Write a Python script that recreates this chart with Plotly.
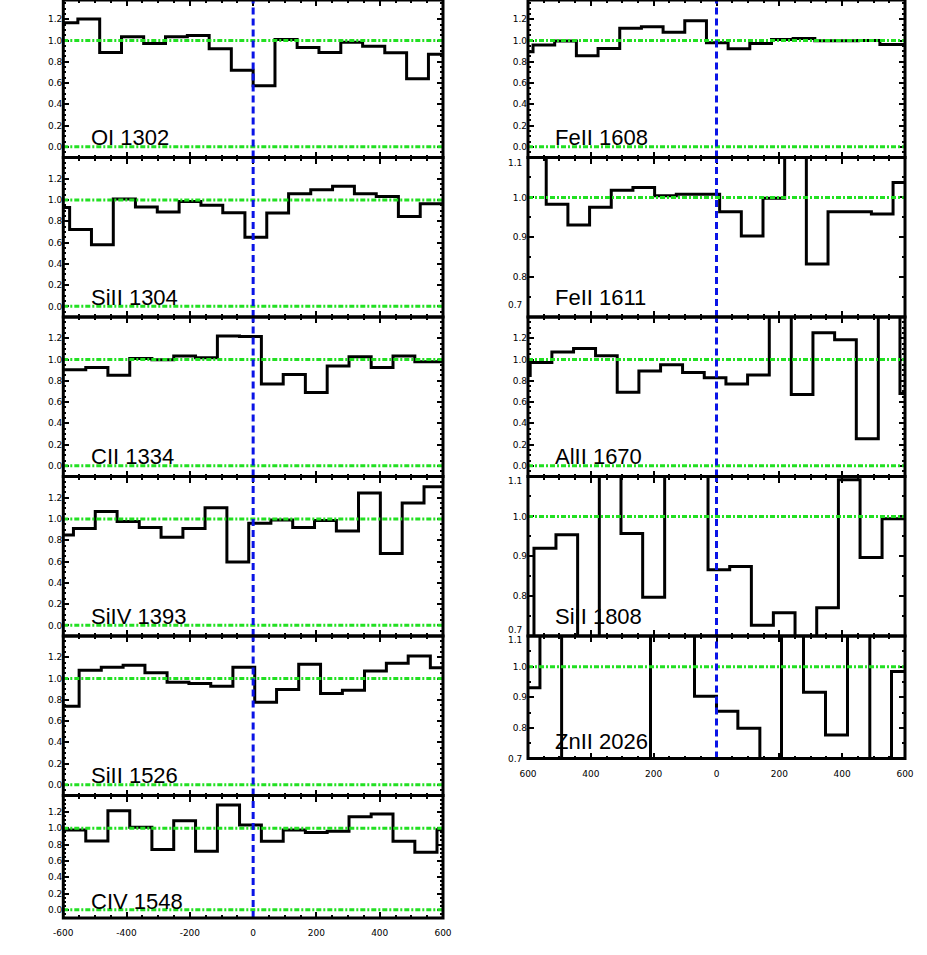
import plotly.graph_objects as go

W, H = 927, 955

# ---------------- data (velocity bin edges in km/s, normalised flux per bin) ----------------
OI1302_edges = [-600, -554, -485, -416, -346, -277, -208, -139, -69, 0, 69, 139, 208, 277, 346, 416, 485, 554, 600]
OI1302_flux = [1.168, 1.203, 0.887, 1.036, 0.973, 1.036, 1.048, 0.922, 0.720, 0.575, 1.010, 0.935, 0.887, 0.985, 0.947, 0.884, 0.641, 0.871]

SiII1304_edges = [-600, -580, -511, -442, -372, -303, -234, -165, -96, -26, 43, 112, 182, 251, 320, 389, 459, 528, 600]
SiII1304_flux = [0.930, 0.724, 0.580, 1.010, 0.934, 0.887, 0.987, 0.950, 0.880, 0.649, 0.878, 1.060, 1.097, 1.130, 1.060, 1.034, 0.846, 0.966]

CII1334_edges = [-600, -529, -459, -390, -320, -251, -182, -113, -43, 26, 95, 165, 234, 303, 373, 442, 511, 581, 600]
CII1334_flux = [0.903, 0.925, 0.853, 1.009, 0.997, 1.034, 1.016, 1.222, 1.216, 0.769, 0.859, 0.690, 0.940, 1.025, 0.925, 1.034, 0.978, 0.978]

SiIV1393_edges = [-600, -568, -499, -430, -360, -291, -222, -152, -83, -14, 56, 125, 194, 263, 333, 402, 471, 540, 600]
SiIV1393_flux = [0.850, 0.910, 1.071, 0.976, 0.920, 0.828, 0.910, 1.105, 0.595, 0.960, 0.992, 0.920, 0.986, 0.888, 1.244, 0.677, 1.150, 1.304]

SiII1526_edges = [-600, -550, -480, -411, -342, -272, -203, -134, -64, 5, 74, 144, 213, 282, 352, 421, 490, 560, 600]
SiII1526_flux = [0.739, 1.077, 1.105, 1.124, 1.055, 0.966, 0.954, 0.928, 1.105, 0.777, 0.897, 1.134, 0.859, 0.890, 1.070, 1.143, 1.212, 1.102]

CIV1548_edges = [-600, -529, -459, -390, -320, -251, -182, -113, -43, 26, 95, 165, 234, 303, 373, 442, 511, 581, 600]
CIV1548_flux = [0.979, 0.843, 1.212, 1.011, 0.738, 1.091, 0.718, 1.284, 1.039, 0.839, 0.979, 0.947, 0.963, 1.140, 1.172, 0.839, 0.706, 0.980]

FeII1608_edges = [-600, -584, -515, -446, -377, -308, -239, -170, -101, -32, 37, 106, 175, 244, 313, 382, 451, 520, 600]
FeII1608_flux = [0.894, 0.957, 0.995, 0.856, 0.925, 1.115, 1.130, 1.077, 1.187, 0.979, 0.922, 0.973, 1.010, 1.020, 0.998, 0.998, 1.000, 0.963]

FeII1611_edges = [-600, -542, -473, -404, -335, -266, -197, -128, -59, 10, 79, 148, 217, 286, 355, 424, 493, 562, 600]
FeII1611_flux = [1.150, 0.983, 0.931, 0.975, 1.018, 1.025, 1.004, 1.008, 1.008, 0.964, 0.903, 0.998, 1.150, 0.833, 0.964, 0.964, 0.958, 1.037]

AlII1670_edges = [-600, -593, -524, -455, -385, -316, -247, -178, -108, -39, 30, 99, 168, 238, 307, 376, 445, 515, 584, 600]
AlII1670_flux = [0.850, 0.973, 1.072, 1.104, 1.035, 0.692, 0.892, 0.951, 0.879, 0.829, 0.770, 0.854, 1.600, 0.670, 1.253, 1.185, 0.256, 1.600, 0.680]

SiII1808_edges = [-600, -581, -511, -442, -373, -304, -235, -165, -96, -27, 42, 111, 181, 250, 319, 388, 457, 527, 600]
SiII1808_flux = [0.600, 0.920, 0.954, 0.600, 1.200, 0.957, 0.797, 1.200, 1.200, 0.866, 0.874, 0.727, 0.758, 0.600, 0.771, 1.092, 0.897, 0.994]

ZnII2026_edges = [-600, -562, -493, -424, -355, -281, -210, -139, -70, 0, 68, 138, 207, 277, 347, 417, 488, 557, 600]
ZnII2026_flux = [0.931, 1.200, 0.600, 0.600, 0.600, 0.600, 1.200, 1.200, 0.903, 0.854, 0.799, 0.600, 1.200, 0.916, 0.777, 1.200, 0.600, 0.984]

wide_ticks = [0.0, 0.2, 0.4, 0.6, 0.8, 1.0, 1.2]
wide_ticktext = ["0.0", "0.2", "0.4", "0.6", "0.8", "1.0", "1.2"]
narrow_ticks = [0.7, 0.8, 0.9, 1.0, 1.1]
narrow_ticktext = ["", "0.8", "0.9", "1.0", ""]
x_ticks = [-600, -400, -200, 0, 200, 400, 600]
x_ticktext_left = ["-600", "-400", "-200", "0", "200", "400", "600"]
x_ticktext_right = ["600", "400", "200", "0", "200", "400", "600"]

# ---------------- layout (pixels) ----------------
col_x = [(63.3, 443.0), (528.0, 905.0)]
panels = [
    # label, edges, flux, column, top px, bottom px, kind, bottom-of-column
    ("OI 1302", OI1302_edges, OI1302_flux, 0, -2.0, 157.5, "wide", False),
    ("SiII 1304", SiII1304_edges, SiII1304_flux, 0, 157.5, 317.0, "wide", False),
    ("CII 1334", CII1334_edges, CII1334_flux, 0, 317.0, 476.5, "wide", False),
    ("SiIV 1393", SiIV1393_edges, SiIV1393_flux, 0, 476.5, 636.0, "wide", False),
    ("SiII 1526", SiII1526_edges, SiII1526_flux, 0, 636.0, 795.5, "wide", False),
    ("CIV 1548", CIV1548_edges, CIV1548_flux, 0, 795.5, 918.0, "wide", True),
    ("FeII 1608", FeII1608_edges, FeII1608_flux, 1, -2.0, 157.5, "wide", False),
    ("FeII 1611", FeII1611_edges, FeII1611_flux, 1, 157.5, 317.0, "narrow", False),
    ("AlII 1670", AlII1670_edges, AlII1670_flux, 1, 317.0, 476.5, "wide", False),
    ("SiII 1808", SiII1808_edges, SiII1808_flux, 1, 476.5, 636.0, "narrow", False),
    ("ZnII 2026", ZnII2026_edges, ZnII2026_flux, 1, 636.0, 758.5, "narrow", True),
]
# shifts (px) of the end tick labels of the narrow panels: (top label shift, bottom label shift)
end_label_shift = {"FeII 1611": (-5.5, 12.0), "SiII 1808": (-4.5, 6.0), "ZnII 2026": (-4.0, 0.0)}

GREEN = "#22e022"
BLUE = "#0a14e6"
tickfont = dict(family="DejaVu Sans", size=9, color="black")

fig = go.Figure()
layout = dict(width=W, height=H, autosize=False, margin=dict(l=0, r=0, t=0, b=0, autoexpand=False),
              paper_bgcolor="white", plot_bgcolor="white", showlegend=False, template="none")
shapes = []
annotations = []

for i, (label, edges, flux, col, top, bot, kind, is_bottom) in enumerate(panels, start=1):
    xs = "" if i == 1 else str(i)
    x0, x1 = col_x[col]
    if kind == "wide":
        lo, hi = -0.1, 1.4
        tv, tt = wide_ticks, wide_ticktext
    else:
        lo, hi = 0.7, 1.1
        tv, tt = narrow_ticks, narrow_ticktext
    top_c = max(top, 0.0)
    if top < 0:
        hi = hi - (top_c - top) / (bot - top) * (hi - lo)
    ydom = [1 - bot / H, 1 - top_c / H]
    xdom = [x0 / W, x1 / W]

    fig.add_trace(go.Scatter(
        x=edges, y=list(flux) + [flux[-1]], mode="lines",
        line=dict(color="black", width=3, shape="hv"),
        xaxis="x" + xs, yaxis="y" + xs, hoverinfo="skip", showlegend=False))

    layout["xaxis" + xs] = dict(
        domain=xdom, anchor="y" + xs, range=[-600, 600], showgrid=False, zeroline=False,
        automargin=False,
        showline=False, mirror="ticks", ticks="inside", ticklen=6, tickwidth=2, tickcolor="black",
        tickmode="array", tickvals=x_ticks,
        ticktext=(x_ticktext_left if col == 0 else x_ticktext_right),
        showticklabels=is_bottom, tickfont=tickfont, ticklabelstandoff=8,
        minor=dict(ticks="inside", ticklen=3, tickwidth=1.5, tickcolor="black", tick0=0, dtick=50))
    layout["yaxis" + xs] = dict(
        domain=ydom, anchor="x" + xs, range=[lo, hi], showgrid=False, zeroline=False,
        automargin=False,
        showline=False, mirror="ticks", ticks="inside", ticklen=6, tickwidth=2, tickcolor="black",
        tickmode="array", tickvals=tv, ticktext=tt, tickfont=tickfont,
        minor=dict(ticks="inside", ticklen=3, tickwidth=1.5, tickcolor="black", tick0=0, dtick=0.05))

    xr, yr = "x" + xs, "y" + xs
    # reference lines
    shapes.append(dict(type="line", xref=xr + " domain", yref=yr, x0=0, x1=1, y0=1.0, y1=1.0,
                       line=dict(color=GREEN, width=3, dash="5px,2px,2px,2px"), layer="above"))
    if kind == "wide":
        shapes.append(dict(type="line", xref=xr + " domain", yref=yr, x0=0, x1=1, y0=0.0, y1=0.0,
                           line=dict(color=GREEN, width=3, dash="5px,2px,2px,2px"), layer="above"))
    shapes.append(dict(type="line", xref=xr, yref=yr + " domain", x0=0, x1=0, y0=0, y1=1,
                       line=dict(color=BLUE, width=3, dash="7px,4px"), layer="above"))
    # frame
    shapes.append(dict(type="rect", xref=xr + " domain", yref=yr + " domain", x0=0, x1=1, y0=0, y1=1,
                       line=dict(color="black", width=3), fillcolor="rgba(0,0,0,0)", layer="above"))

    # panel label
    annotations.append(dict(text=label, xref=xr, yref=yr + " domain", x=-520, y=0,
                            xanchor="left", yanchor="bottom", yshift=(5.5 if bot - top > 140 else 2.5),
                            showarrow=False, font=dict(family="Liberation Sans, Arial", size=22, color="black")))

    # end tick labels of narrow panels
    if kind == "narrow":
        s_top, s_bot = end_label_shift[label]
        for val, txt, sh in ((1.1, "1.1", s_top), (0.7, "0.7", s_bot)):
            annotations.append(dict(text=txt, xref="paper", yref=yr, x=(x0 - 4) / W, y=val,
                                    xanchor="right", yanchor="middle", yshift=sh, showarrow=False,
                                    font=tickfont))

layout["shapes"] = shapes
layout["annotations"] = annotations
fig.update_layout(**layout)

fig.write_html("out.html", config={"displayModeBar": False},
               post_script="document.body.style.margin='0px';")
